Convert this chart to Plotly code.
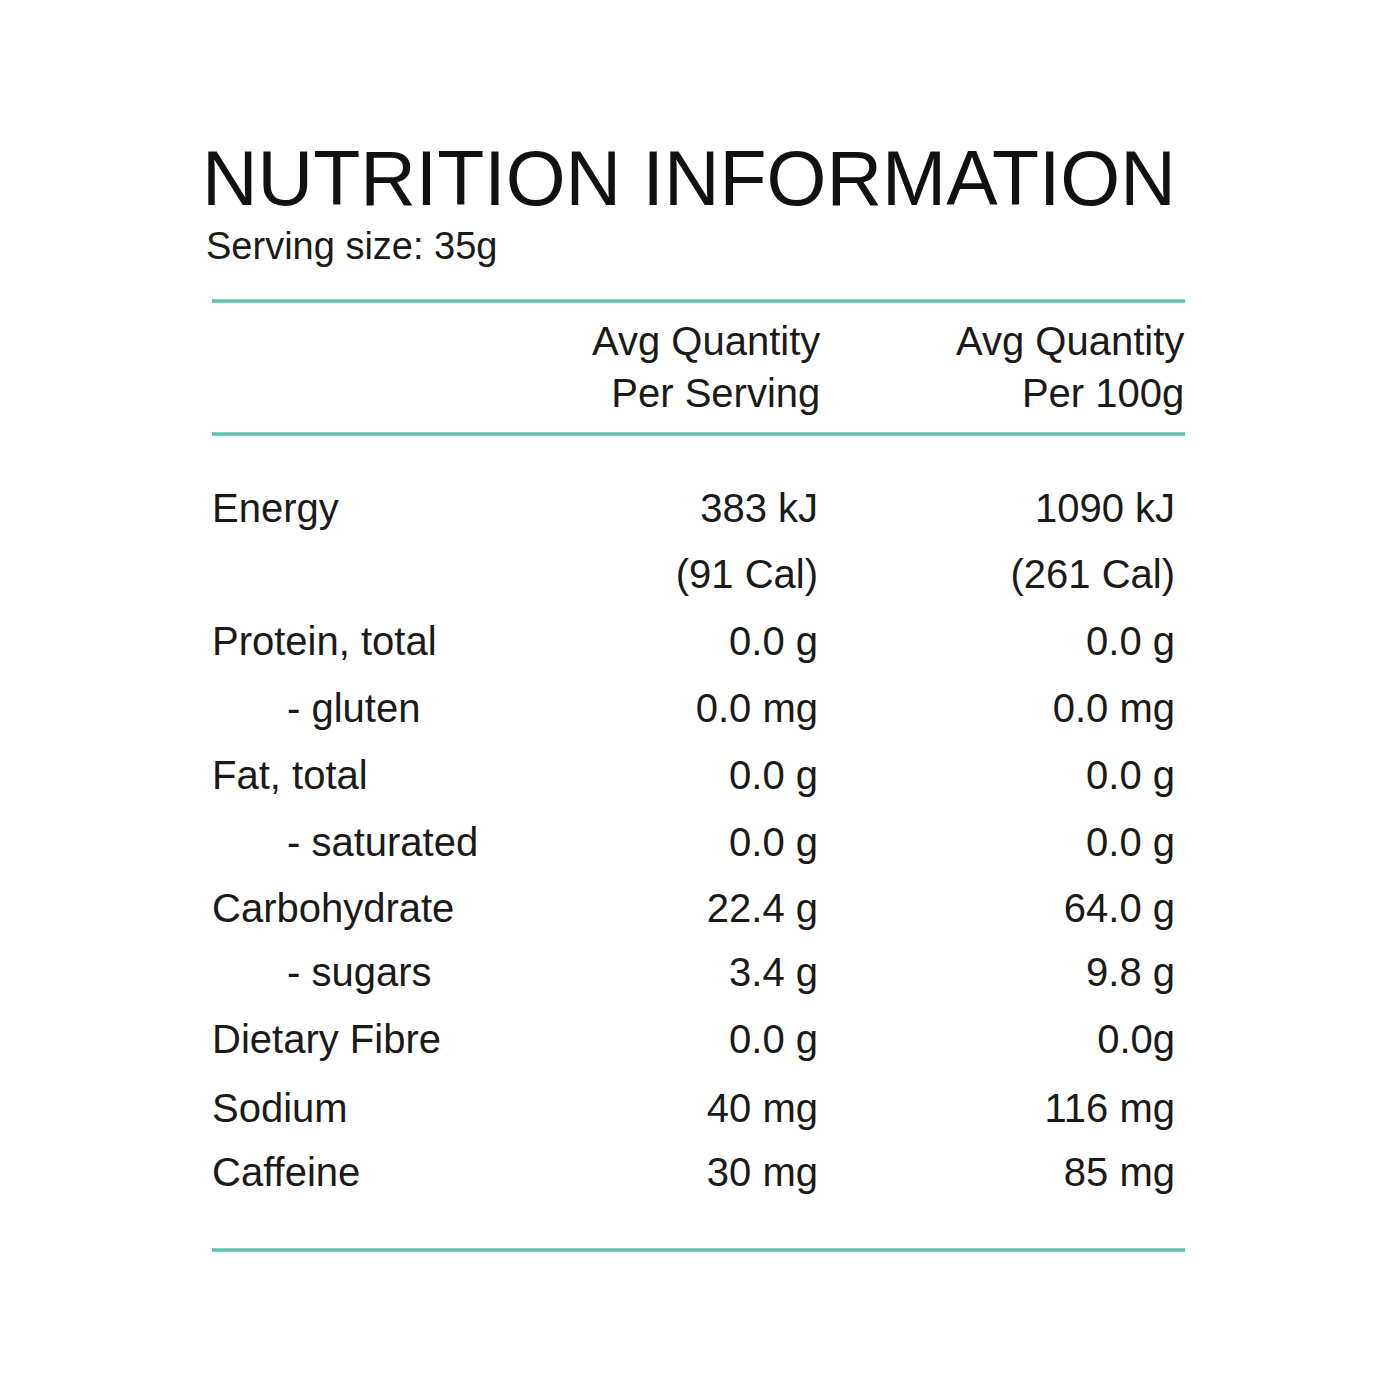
import plotly.graph_objects as go

title = "NUTRITION INFORMATION"
subtitle = "Serving size: 35g"
col_headers = ["Avg Quantity<br>Per Serving", "Avg Quantity<br>Per 100g"]
nutrients = ["Energy", "", "Protein, total", "- gluten", "Fat, total", "- saturated",
             "Carbohydrate", "- sugars", "Dietary Fibre", "Sodium", "Caffeine"]
indented = [False, False, False, True, False, True, False, True, False, False, False]
per_serving = ["383 kJ", "(91 Cal)", "0.0 g", "0.0 mg", "0.0 g", "0.0 g",
               "22.4 g", "3.4 g", "0.0 g", "40 mg", "30 mg"]
per_100g = ["1090 kJ", "(261 Cal)", "0.0 g", "0.0 mg", "0.0 g", "0.0 g",
            "64.0 g", "9.8 g", "0.0g", "116 mg", "85 mg"]

DX, DY = -8, -7
row_y = [y + DY for y in [511, 577, 644, 711, 778, 845, 911, 975, 1042, 1111, 1175]]
FONT = "Liberation Sans"
TEAL = "#5cc3ab"
fs = 40

fig = go.Figure()
fig.add_trace(go.Scatter(
    x=[(287 if i else 212) + DX for i in indented], y=row_y, text=nutrients,
    mode="text", textposition="middle right",
    textfont=dict(family=FONT, size=fs, color="#1a1a1a"), hoverinfo="skip"))
fig.add_trace(go.Scatter(
    x=[818 + DX] * len(per_serving), y=row_y, text=per_serving,
    mode="text", textposition="middle left",
    textfont=dict(family=FONT, size=fs, color="#1a1a1a"), hoverinfo="skip"))
fig.add_trace(go.Scatter(
    x=[1175 + DX] * len(per_100g), y=row_y, text=per_100g,
    mode="text", textposition="middle left",
    textfont=dict(family=FONT, size=fs, color="#1a1a1a"), hoverinfo="skip"))

fig.add_annotation(x=200 + DX, y=177 + DY, text=title, showarrow=False, xanchor="left", yanchor="middle",
                   font=dict(family=FONT, size=77, color="#111"))
fig.add_annotation(x=204 + DX, y=245 + DY, text=subtitle, showarrow=False, xanchor="left", yanchor="middle",
                   font=dict(family=FONT, size=38, color="#1a1a1a"))
for xr, h in zip([818, 1182], col_headers):
    fig.add_annotation(x=xr + DX + 4, y=366 + DY, text=h, showarrow=False, xanchor="right", yanchor="middle",
                       align="right", font=dict(family=FONT, size=fs, color="#1a1a1a"))

for yl in [300, 433, 1249]:
    fig.add_shape(type="line", x0=212 + DX, x1=1185 + DX, y0=yl + DY, y1=yl + DY,
                  line=dict(color=TEAL, width=3.5))

fig.update_xaxes(range=[0, 1400], visible=False, fixedrange=True)
fig.update_yaxes(range=[1400, 0], visible=False, fixedrange=True)
fig.update_layout(width=1400, height=1400, margin=dict(l=0, r=0, t=0, b=0),
                  paper_bgcolor="white", plot_bgcolor="white", showlegend=False)
fig.write_html("out.html")
